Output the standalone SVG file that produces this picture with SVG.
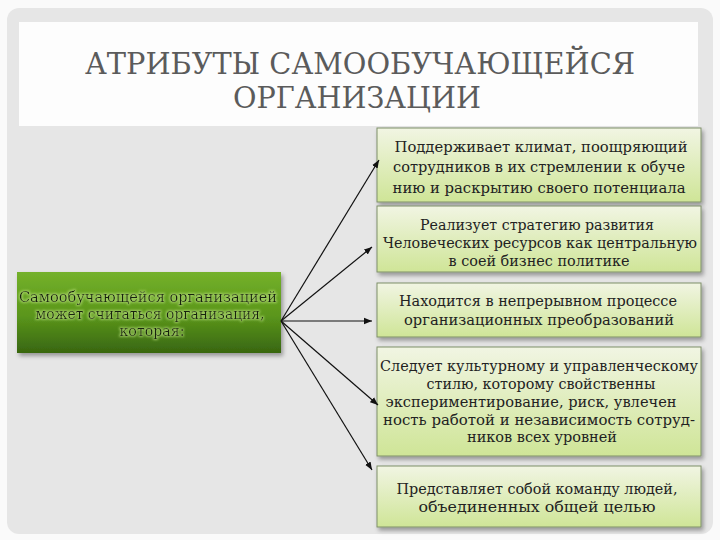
<svg xmlns="http://www.w3.org/2000/svg" width="720" height="540" viewBox="0 0 720 540">
  <defs>
    <linearGradient id="gLeft" x1="0" y1="0" x2="0" y2="1">
      <stop offset="0" stop-color="#74b12a"/>
      <stop offset="0.55" stop-color="#5a951b"/>
      <stop offset="1" stop-color="#386610"/>
    </linearGradient>
    <linearGradient id="gRight" x1="0" y1="0" x2="0" y2="1">
      <stop offset="0" stop-color="#f1f5e3"/>
      <stop offset="1" stop-color="#cfe597"/>
    </linearGradient>
    <filter id="shadow" x="-10%" y="-10%" width="125%" height="130%">
      <feDropShadow dx="2" dy="3" stdDeviation="2" flood-color="#000" flood-opacity="0.35"/>
    </filter>
    <filter id="glow" x="-5%" y="-20%" width="110%" height="140%">
      <feMorphology in="SourceAlpha" operator="dilate" radius="1" result="d"/>
      <feGaussianBlur in="d" stdDeviation="1" result="b"/>
      <feFlood flood-color="#b8e07a" flood-opacity="0.7"/>
      <feComposite in2="b" operator="in" result="g"/>
      <feMerge><feMergeNode in="g"/><feMergeNode in="SourceGraphic"/></feMerge>
    </filter>
    <marker id="arr" viewBox="0 0 10 10" refX="10" refY="5" markerWidth="8" markerHeight="8" markerUnits="userSpaceOnUse" orient="auto">
      <path d="M0,1 L10,5 L0,9 z" fill="#111"/>
    </marker>
  </defs>
  <style>
    text { font-family: "DejaVu Serif", "Liberation Serif", serif; }
    .title { font-size: 29px; fill: #5b5b5b; text-anchor: middle; }
    .bt { font-size: 15px; fill: #222; text-anchor: middle; }
    .lt { font-size: 14.5px; fill: #14220a; text-anchor: middle; }
    .rbox { fill: url(#gRight); stroke: #7f8f68; stroke-width: 1; filter: url(#shadow); }
    .conn line { stroke: #111; stroke-width: 1.2; marker-end: url(#arr); }
  </style>

  <rect x="0" y="0" width="720" height="540" fill="#fafafa"/>
  <rect x="7" y="8" width="706" height="526" rx="12" fill="#e6e6e6"/>
  <rect x="19" y="22" width="679" height="104" fill="#fdfdfd"/>

  <g id="title">
    <text class="title" x="360" y="74" textLength="550" lengthAdjust="spacingAndGlyphs">АТРИБУТЫ САМООБУЧАЮЩЕЙСЯ</text>
    <text class="title" x="357" y="108" textLength="248" lengthAdjust="spacingAndGlyphs">ОРГАНИЗАЦИИ</text>
  </g>

  <g id="source">
    <rect x="17" y="272" width="264" height="81" fill="url(#gLeft)" filter="url(#shadow)"/>
    <g filter="url(#glow)">
      <text class="lt" x="148" y="302" textLength="258" lengthAdjust="spacingAndGlyphs">Самообучающейся организацией</text>
      <text class="lt" x="150" y="319" textLength="229" lengthAdjust="spacingAndGlyphs">может считаться организация,</text>
      <text class="lt" x="152" y="336" textLength="65" lengthAdjust="spacingAndGlyphs">которая:</text>
    </g>
  </g>

  <g id="box1">
    <rect class="rbox" x="377" y="128" width="324" height="74"/>
    <text class="bt" x="541" y="152" textLength="293" lengthAdjust="spacingAndGlyphs">Поддерживает климат, поощряющий</text>
    <text class="bt" x="539" y="172" textLength="292" lengthAdjust="spacingAndGlyphs">сотрудников в их стремлении к обуче</text>
    <text class="bt" x="539" y="193" textLength="293" lengthAdjust="spacingAndGlyphs">нию  и раскрытию своего потенциала</text>
  </g>

  <g id="box2">
    <rect class="rbox" x="377" y="206" width="324" height="66"/>
    <text class="bt" x="537" y="230" textLength="234" lengthAdjust="spacingAndGlyphs">Реализует стратегию развития</text>
    <text class="bt" x="540" y="248" textLength="314" lengthAdjust="spacingAndGlyphs">Человеческих ресурсов как центральную</text>
    <text class="bt" x="539" y="266" textLength="181" lengthAdjust="spacingAndGlyphs">в соей бизнес политике</text>
  </g>

  <g id="box3">
    <rect class="rbox" x="377" y="283" width="324" height="54"/>
    <text class="bt" x="538" y="306" textLength="278" lengthAdjust="spacingAndGlyphs">Находится в непрерывном процессе</text>
    <text class="bt" x="539" y="325" textLength="270" lengthAdjust="spacingAndGlyphs">организационных преобразований</text>
  </g>

  <g id="box4">
    <rect class="rbox" x="377" y="347" width="324" height="109"/>
    <text class="bt" x="539" y="371" textLength="318" lengthAdjust="spacingAndGlyphs">Следует культурному и управленческому</text>
    <text class="bt" x="541" y="389" textLength="229" lengthAdjust="spacingAndGlyphs">стилю, которому свойственны</text>
    <text class="bt" x="531" y="407" textLength="291" lengthAdjust="spacingAndGlyphs">экспериментирование, риск, увлечен</text>
    <text class="bt" x="539" y="425" textLength="312" lengthAdjust="spacingAndGlyphs">ность работой и независимость сотруд-</text>
    <text class="bt" x="542" y="442" textLength="150" lengthAdjust="spacingAndGlyphs">ников  всех уровней</text>
  </g>

  <g id="box5">
    <rect class="rbox" x="377" y="466" width="324" height="61"/>
    <text class="bt" x="537" y="494" textLength="281" lengthAdjust="spacingAndGlyphs">Представляет собой команду людей,</text>
    <text class="bt" x="537" y="512" textLength="237" lengthAdjust="spacingAndGlyphs">объединенных общей целью</text>
  </g>

  <g id="connectors" class="conn">
    <line x1="281" y1="321" x2="379" y2="160"/>
    <line x1="281" y1="321" x2="372" y2="247"/>
    <line x1="281" y1="321" x2="372" y2="321"/>
    <line x1="281" y1="321" x2="378" y2="405"/>
    <line x1="281" y1="321" x2="372" y2="470"/>
  </g>
</svg>
